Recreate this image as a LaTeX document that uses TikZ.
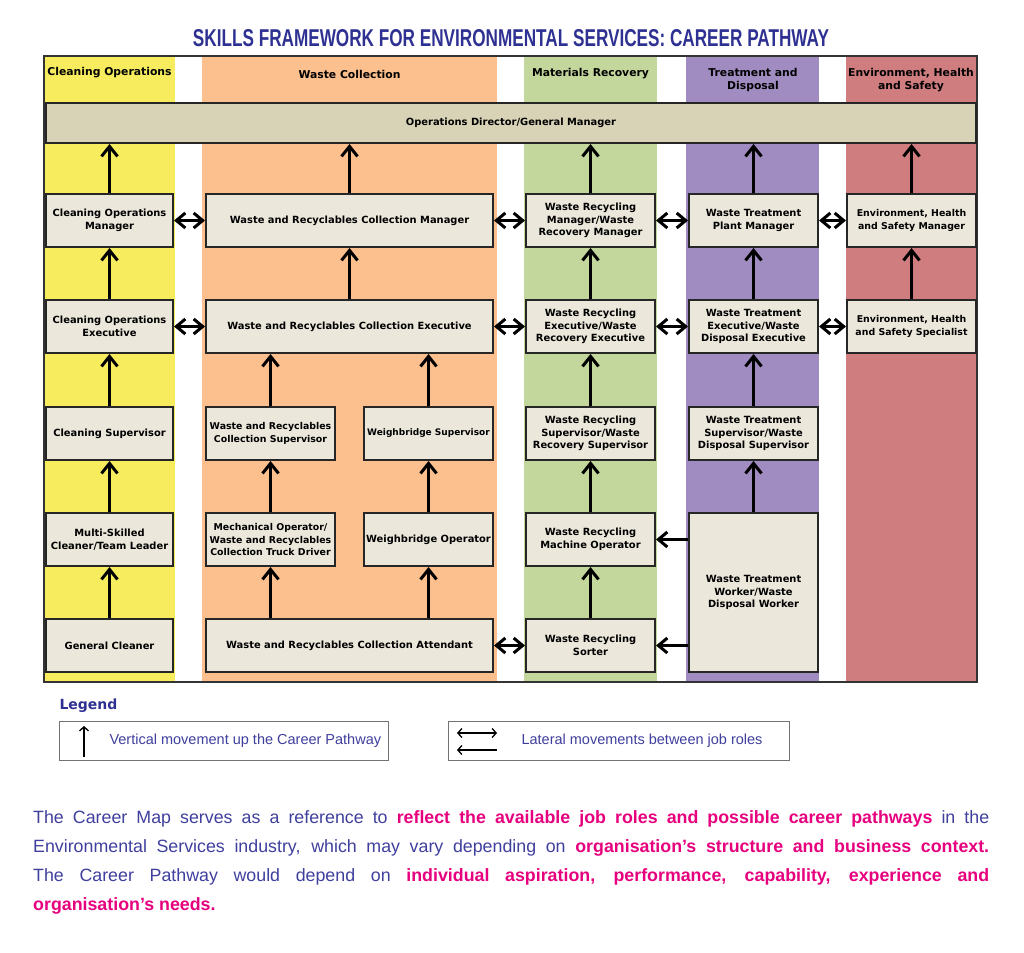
\documentclass[tikz,border=0pt]{standalone}
\usepackage{graphicx}
\usepackage{fontspec}
\setmainfont{DejaVu Sans}
\newfontfamily\narrowfont{Liberation Sans}
\usepackage{xcolor}
\usetikzlibrary{arrows.meta}

\definecolor{cleanyellow}{HTML}{F7EC5E}
\definecolor{wasteorange}{HTML}{FBC08E}
\definecolor{recovgreen}{HTML}{C3D69B}
\definecolor{treatpurple}{HTML}{A08CC0}
\definecolor{ehsred}{HTML}{D07D80}
\definecolor{opsbar}{HTML}{D8D3B7}
\definecolor{rolefill}{HTML}{EBE7DB}
\definecolor{titleblue}{HTML}{2E3192}
\definecolor{textblue}{HTML}{3F3F9E}
\definecolor{hotpink}{HTML}{E6007E}

\tikzset{
  role/.style={draw=black!85, line width=2pt, fill=rolefill, align=center,
    minimum width=129pt, minimum height=53pt, inner sep=1pt,
    font=\fontsize{9.9}{12.5}\selectfont\bfseries},
  smallrole/.style={font=\fontsize{9.4}{12.3}\selectfont\bfseries},
  colhead/.style={align=center, font=\fontsize{10.8}{13}\selectfont\bfseries},
  up/.style={-{Straight Barb[length=10pt,width=16pt]}, line width=3pt},
  lateral/.style={{Straight Barb[length=9pt,width=15pt]}-{Straight Barb[length=9pt,width=15pt]}, line width=3pt},
  legbox/.style={draw=black!55, line width=1pt, fill=white},
  legtext/.style={text=textblue, font=\narrowfont\fontsize{14.5}{17}\selectfont},
  legarrow/.style={line width=1.3pt, -{Straight Barb[length=4pt,width=9pt]}},
}

\begin{document}
\begin{tikzpicture}[x=1pt, y=-1pt]
  \useasboundingbox (0,0) rectangle (1024,952);

  % Title
  \node[text=titleblue, font=\narrowfont\bfseries] (title) at (511,38)
    {\resizebox{636pt}{17pt}{SKILLS FRAMEWORK FOR ENVIRONMENTAL SERVICES: CAREER PATHWAY}};

  % Coloured columns
  \fill[cleanyellow] (44,57) rectangle (175,682);
  \fill[wasteorange] (202,57) rectangle (497,682);
  \fill[recovgreen]  (524,57) rectangle (657,682);
  \fill[treatpurple] (686,57) rectangle (819,682);
  \fill[ehsred]      (846,57) rectangle (977,682);
  \draw[black!80, line width=2pt] (44,56) rectangle (977,682);

  % Column headings
  \node[colhead] (hclean) at (109.5,73) {Cleaning Operations};
  \node[colhead] (hwaste) at (349.5,74) {Waste Collection};
  \node[colhead] (hrecov) at (590.5,74) {Materials Recovery};
  \node[colhead] (htreat) at (753,80.5) {Treatment and\\Disposal};
  \node[colhead] (hehs)   at (911,80.5) {Environment, Health\\and Safety};

  % Top bar
  \node[draw=black!85, line width=2pt, fill=opsbar, minimum width=930pt, minimum height=40pt,
    font=\fontsize{9.9}{12}\selectfont\bfseries] (ops) at (511,123) {Operations Director/General Manager};

  % Cleaning Operations
  \node[role, minimum width=127pt] (cgen)   at (109.5,645.5) {General Cleaner};
  \node[role, minimum width=127pt] (cmulti) at (109.5,539.5) {Multi-Skilled\\Cleaner/Team Leader};
  \node[role, minimum width=127pt] (csup)   at (109.5,433.5) {Cleaning Supervisor};
  \node[role, minimum width=127pt] (cexec)  at (109.5,326.5) {Cleaning Operations\\Executive};
  \node[role, minimum width=127pt] (cman)   at (109.5,220.5) {Cleaning Operations\\Manager};

  % Waste Collection
  \node[role, minimum width=287pt] (wattend) at (349.5,645.5) {Waste and Recyclables Collection Attendant};
  \node[role, smallrole] (wmech)  at (270.5,539.5) {Mechanical Operator/\\Waste and Recyclables\\Collection Truck Driver};
  \node[role] (wbop)   at (428.5,539.5) {Weighbridge Operator};
  \node[role, smallrole] (wsup)   at (270.5,433.5) {Waste and Recyclables\\Collection Supervisor};
  \node[role, font=\fontsize{9}{12}\selectfont\bfseries] (wbsup) at (428.5,433.5) {Weighbridge Supervisor};
  \node[role, minimum width=287pt] (wexec) at (349.5,326.5) {Waste and Recyclables Collection Executive};
  \node[role, minimum width=287pt] (wman)  at (349.5,220.5) {Waste and Recyclables Collection Manager};

  % Materials Recovery
  \node[role] (msort) at (590.5,645.5) {Waste Recycling\\Sorter};
  \node[role] (mmach) at (590.5,539.5) {Waste Recycling\\Machine Operator};
  \node[role] (msup)  at (590.5,433.5) {Waste Recycling\\Supervisor/Waste\\Recovery Supervisor};
  \node[role] (mexec) at (590.5,326.5) {Waste Recycling\\Executive/Waste\\Recovery Executive};
  \node[role] (mman)  at (590.5,220.5) {Waste Recycling\\Manager/Waste\\Recovery Manager};

  % Treatment and Disposal
  \node[role, minimum height=159pt] (tworker) at (753.5,592.5) {Waste Treatment\\Worker/Waste\\Disposal Worker};
  \node[role] (tsup)  at (753.5,433.5) {Waste Treatment\\Supervisor/Waste\\Disposal Supervisor};
  \node[role] (texec) at (753.5,326.5) {Waste Treatment\\Executive/Waste\\Disposal Executive};
  \node[role] (tman)  at (753.5,220.5) {Waste Treatment\\Plant Manager};

  % Environment, Health and Safety
  \node[role, smallrole] (espec) at (911.5,326.5) {Environment, Health\\and Safety Specialist};
  \node[role, smallrole] (eman)  at (911.5,220.5) {Environment, Health\\and Safety Manager};

  % Vertical movement
  \draw[up] (cgen) -- (cmulti);
  \draw[up] (cmulti) -- (csup);
  \draw[up] (csup) -- (cexec);
  \draw[up] (cexec) -- (cman);
  \draw[up] (cman.north) -- (cman.north |- ops.south);
  \draw[up] (wmech.south |- wattend.north) -- (wmech.south);
  \draw[up] (wbop.south |- wattend.north) -- (wbop.south);
  \draw[up] (wmech) -- (wsup);
  \draw[up] (wbop) -- (wbsup);
  \draw[up] (wsup.north) -- (wsup.north |- wexec.south);
  \draw[up] (wbsup.north) -- (wbsup.north |- wexec.south);
  \draw[up] (wexec) -- (wman);
  \draw[up] (wman.north) -- (wman.north |- ops.south);
  \draw[up] (msort) -- (mmach);
  \draw[up] (mmach) -- (msup);
  \draw[up] (msup) -- (mexec);
  \draw[up] (mexec) -- (mman);
  \draw[up] (mman.north) -- (mman.north |- ops.south);
  \draw[up] (tworker.north) -- (tsup.south);
  \draw[up] (tsup) -- (texec);
  \draw[up] (texec) -- (tman);
  \draw[up] (tman.north) -- (tman.north |- ops.south);
  \draw[up] (espec) -- (eman);
  \draw[up] (eman.north) -- (eman.north |- ops.south);

  % Lateral movement
  \draw[lateral] (cman) -- (wman);
  \draw[lateral] (cexec) -- (wexec);
  \draw[lateral] (wman) -- (mman);
  \draw[lateral] (wexec) -- (mexec);
  \draw[lateral] (wattend) -- (msort);
  \draw[lateral] (mman) -- (tman);
  \draw[lateral] (mexec) -- (texec);
  \draw[lateral] (tman) -- (eman);
  \draw[lateral] (texec) -- (espec);
  \draw[up, -{Straight Barb[length=9pt,width=15pt]}] (tworker.west |- mmach.east) -- (mmach.east);
  \draw[up, -{Straight Barb[length=9pt,width=15pt]}] (tworker.west |- msort.east) -- (msort.east);

  % Legend
  \node[anchor=west, text=titleblue, font=\fontsize{14}{16}\selectfont\bfseries] (leghead) at (56,706) {Legend};
  \node[legbox, minimum width=329pt, minimum height=39pt] (legvert) at (223.5,740.5) {};
  \node[legbox, minimum width=341pt, minimum height=39pt] (leglat) at (618.5,740.5) {};
  \node[legtext, anchor=west] (legverttxt) at (106,740.5) {Vertical movement up the Career Pathway};
  \node[legtext, anchor=west] (leglattxt) at (518,740.5) {Lateral movements between job roles};
  \coordinate (vtail) at (84,757);
  \coordinate (vtip) at (84,726);
  \draw[legarrow] (vtail) -- (vtip);
  \coordinate (lata) at (457,733);
  \coordinate (latb) at (497,733);
  \coordinate (latc) at (497,750);
  \coordinate (latd) at (457,750);
  \draw[legarrow, {Straight Barb[length=4pt,width=9pt]}-{Straight Barb[length=4pt,width=9pt]}] (lata) -- (latb);
  \draw[legarrow] (latc) -- (latd);

  % Note under the map
  \node[anchor=north west, inner sep=0pt, text width=956pt, align=justify, text=textblue,
    font=\narrowfont\fontsize{17.8}{29}\selectfont] (note) at (33,810)
    {\hyphenpenalty=10000 The Career Map serves as a reference to \textcolor{hotpink}{\bfseries reflect the available job roles and possible career pathways} in the\linebreak
    Environmental Services industry, which may vary depending on \textcolor{hotpink}{\bfseries organisation’s structure and business context.}\linebreak
    The Career Pathway would depend on \textcolor{hotpink}{\bfseries individual aspiration, performance, capability, experience and}\linebreak
    \textcolor{hotpink}{\bfseries organisation’s needs.}};
\end{tikzpicture}
\end{document}
